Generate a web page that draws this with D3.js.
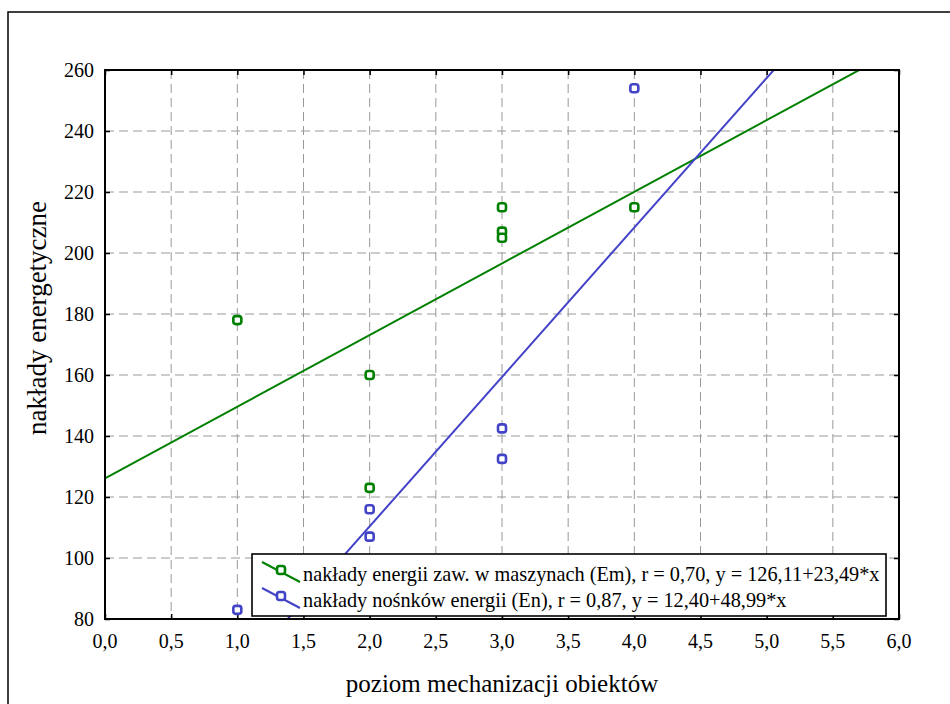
<!DOCTYPE html>
<html>
<head>
<meta charset="utf-8">
<script src="https://cdn.jsdelivr.net/npm/d3@7"></script>
<style>
  body { margin: 0; background: #fff; }
</style>
</head>
<body>
<div id="chart"></div>
<script>
// data
var xTicks = [0, 0.5, 1, 1.5, 2, 2.5, 3, 3.5, 4, 4.5, 5, 5.5, 6];
var yTicks = [80, 100, 120, 140, 160, 180, 200, 220, 240, 260];

var emX = [1, 2, 2, 3, 3, 3, 4];
var emY = [178, 160, 123, 215, 207, 205, 215];
var emFit = [126.11, 23.49];   // intercept, slope
var emLabel = 'nakłady energii zaw. w maszynach (Em), r = 0,70, y = 126,11+23,49*x';

var enX = [1, 2, 2, 3, 3, 4];
var enY = [83, 116, 107, 142.5, 132.5, 254];
var enFit = [12.40, 48.99];
var enLabel = 'nakłady nośnków energii (En), r = 0,87, y = 12,40+48,99*x';

var xTitle = 'poziom mechanizacji obiektów';
var yTitle = 'nakłady energetyczne';

var green = '#008000', blue = '#4343c8';

var W = 950, H = 704;
var plotL = 105, plotT = 70, plotR = 899, plotB = 619;

var svg = d3.select('#chart').append('svg')
  .attr('width', W)
  .attr('height', H)
  .attr('font-family', '"Liberation Serif", "Times New Roman", serif')
  .style('display', 'block');

// outer frame (runs off the page to the right and bottom)
svg.append('rect')
  .attr('x', 8).attr('y', 12)
  .attr('width', 1000).attr('height', 1000)
  .attr('fill', 'none')
  .attr('stroke', '#000')
  .attr('stroke-width', 1.5);

var x = d3.scaleLinear().domain([0, 6]).range([plotL, plotR]);
var y = d3.scaleLinear().domain([80, 260]).range([plotB, plotT]);
var fmt = function(d) { return d3.format('.1f')(d).replace('.', ','); };

// grid
var grid = svg.append('g')
  .attr('stroke', '#999')
  .attr('stroke-width', 1)
  .attr('stroke-dasharray', '9,5');

grid.selectAll('line.vx')
  .data(xTicks.slice(1, -1))
  .enter().append('line')
  .attr('class', 'vx')
  .attr('x1', d => x(d)).attr('x2', d => x(d))
  .attr('y1', plotT).attr('y2', plotB);

grid.selectAll('line.hy')
  .data(yTicks.slice(1, -1))
  .enter().append('line')
  .attr('class', 'hy')
  .attr('x1', plotL).attr('x2', plotR)
  .attr('y1', d => y(d)).attr('y2', d => y(d));

// axes with inward ticks
function noDomain(g) { g.select('.domain').remove(); g.selectAll('text').remove(); }

svg.append('g').attr('transform', `translate(0,${plotB})`)
  .call(d3.axisTop(x).tickValues(xTicks).tickSize(5)).call(noDomain);
svg.append('g').attr('transform', `translate(0,${plotT})`)
  .call(d3.axisBottom(x).tickValues(xTicks).tickSize(5)).call(noDomain);
svg.append('g').attr('transform', `translate(${plotL},0)`)
  .call(d3.axisRight(y).tickValues(yTicks).tickSize(5)).call(noDomain);
svg.append('g').attr('transform', `translate(${plotR},0)`)
  .call(d3.axisLeft(y).tickValues(yTicks).tickSize(5)).call(noDomain);
svg.selectAll('.tick line').attr('stroke', '#000').attr('stroke-width', 1.5);

// tick labels
svg.append('g').selectAll('text')
  .data(xTicks)
  .enter().append('text')
  .attr('x', d => x(d))
  .attr('y', 648)
  .attr('text-anchor', 'middle')
  .attr('font-size', 20)
  .text(fmt);

svg.append('g').selectAll('text')
  .data(yTicks)
  .enter().append('text')
  .attr('x', 94)
  .attr('y', d => y(d) + 6.5)
  .attr('text-anchor', 'end')
  .attr('font-size', 20)
  .text(d => d);

// regression lines, clipped to the plot
svg.append('clipPath').attr('id', 'plot-clip')
  .append('rect')
  .attr('x', plotL).attr('y', plotT)
  .attr('width', plotR - plotL).attr('height', plotB - plotT);

var plot = svg.append('g').attr('clip-path', 'url(#plot-clip)');

[[emFit, green], [enFit, blue]].forEach(function(f) {
  plot.append('line')
    .attr('x1', x(0)).attr('y1', y(f[0][0]))
    .attr('x2', x(6)).attr('y2', y(f[0][0] + f[0][1] * 6))
    .attr('stroke', f[1])
    .attr('stroke-width', 2);
});

// markers
function marker(sel, color) {
  sel.attr('width', 8).attr('height', 8)
    .attr('rx', 2.5)
    .attr('fill', '#fff')
    .attr('stroke', color)
    .attr('stroke-width', 2.6);
}

svg.append('g').selectAll('rect')
  .data(emX.map((d, i) => [d, emY[i]]))
  .enter().append('rect')
  .attr('x', d => x(d[0]) - 4)
  .attr('y', d => y(d[1]) - 4)
  .call(marker, green);

svg.append('g').selectAll('rect')
  .data(enX.map((d, i) => [d, enY[i]]))
  .enter().append('rect')
  .attr('x', d => x(d[0]) - 4)
  .attr('y', d => y(d[1]) - 4)
  .call(marker, blue);

// plot frame
svg.append('rect')
  .attr('x', plotL).attr('y', plotT)
  .attr('width', plotR - plotL).attr('height', plotB - plotT)
  .attr('fill', 'none')
  .attr('stroke', '#000')
  .attr('stroke-width', 2);

// legend
var legend = svg.append('g');
legend.append('rect')
  .attr('x', 252).attr('y', 554)
  .attr('width', 634).attr('height', 62)
  .attr('fill', '#fff')
  .attr('stroke', '#000')
  .attr('stroke-width', 1.6);

var items = [[emLabel, green], [enLabel, blue]];
var row = legend.selectAll('g.item')
  .data(items)
  .enter().append('g')
  .attr('class', 'item')
  .attr('transform', (d, i) => `translate(0,${i * 26})`);

row.append('line')
  .attr('x1', 262).attr('y1', 562)
  .attr('x2', 300).attr('y2', 582)
  .attr('stroke', d => d[1])
  .attr('stroke-width', 2);

row.append('rect')
  .attr('x', 277).attr('y', 566)
  .each(function(d) { d3.select(this).call(marker, d[1]); });

row.append('text')
  .attr('x', 303)
  .attr('y', 581)
  .attr('font-size', 20.3)
  .text(d => d[0]);

// axis titles
svg.append('text')
  .attr('x', (plotL + plotR) / 2)
  .attr('y', 692)
  .attr('text-anchor', 'middle')
  .attr('font-size', 25)
  .text(xTitle);

svg.append('text')
  .attr('transform', 'translate(46,318) rotate(-90)')
  .attr('text-anchor', 'middle')
  .attr('font-size', 27)
  .text(yTitle);
</script>
</body>
</html>
